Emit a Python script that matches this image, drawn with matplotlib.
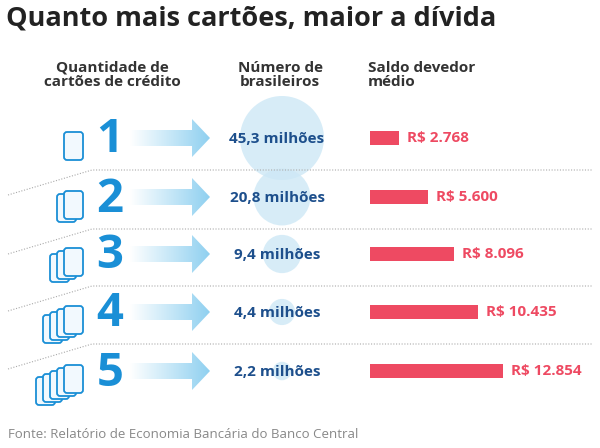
import matplotlib
matplotlib.use("Agg")
import matplotlib.pyplot as plt
import numpy as np
from matplotlib.patches import FancyBboxPatch, Circle, Rectangle, Polygon
from matplotlib.colors import LinearSegmentedColormap

plt.rcParams['font.family'] = ['Open Sans', 'DejaVu Sans']

cards = [1, 2, 3, 4, 5]
people = [45.3, 20.8, 9.4, 4.4, 2.2]
people_labels = ["45,3 milhões", "20,8 milhões", "9,4 milhões", "4,4 milhões", "2,2 milhões"]
debt = [2768, 5600, 8096, 10435, 12854]
debt_labels = ["R$ 2.768", "R$ 5.600", "R$ 8.096", "R$ 10.435", "R$ 12.854"]

BLUE = "#1a8fd6"
DARK = "#1d4f8c"
RED = "#ee4a62"

fig = plt.figure(figsize=(6, 4.48), dpi=100)
ax = fig.add_axes([0, 0, 1, 1])
ax.set_xlim(0, 600); ax.set_ylim(448, 0); ax.axis('off')

ax.text(6, 18, "Quanto mais cartões, maior a dívida", fontsize=19.5, fontweight='bold',
        color='#222222', va='center')
for x, t in [(112, "Quantidade de\ncartões de crédito"), (280, "Número de\nbrasileiros"), (368, "Saldo devedor\nmédio")]:
    ax.text(x, 75, t, fontsize=11, fontweight='bold', color='#333333', va='center',
            ha='left' if x == 368 else 'center', linespacing=1.05)

ys = [138, 197, 254, 312, 371]
for i in range(4):
    sy = ys[i] + 32
    ax.plot([8, 92, 592], [sy + 25, sy, sy], ls=(0, (1, 1.5)), color='#aaaaaa', lw=0.8)

grad = np.linspace(0, 1, 256).reshape(1, -1)
cmap = LinearSegmentedColormap.from_list('g', ['#ffffff', '#8fd0f0'])
rmax = 42
for i, y in enumerate(ys):
    n = cards[i]
    for k in range(n):
        off = (n - 1 - k)
        x0 = 64 - 7 * off
        y0 = y - 6 + 3 * off
        ax.add_patch(FancyBboxPatch((x0, y0), 19, 28, boxstyle="round,pad=0,rounding_size=3",
                                    fc='#f2f9fe', ec=BLUE, lw=1.3, zorder=3 + k))
    ax.text(110, y + 2, str(n), fontsize=34, fontweight='bold', color=BLUE, ha='center', va='center')
    poly = Polygon([[130, y - 8], [192, y - 8], [192, y - 19], [210, y], [192, y + 19], [192, y + 8], [130, y + 8]],
                   closed=True, fc='none', ec='none')
    ax.add_patch(poly)
    im = ax.imshow(grad, cmap=cmap, extent=[130, 210, y + 19, y - 19], aspect='auto', zorder=2)
    im.set_clip_path(poly)
    r = rmax * np.sqrt(people[i] / people[0])
    ax.add_patch(Circle((282, y), r, fc='#cde8f6', alpha=0.8, ec='none', zorder=1))
    ax.text(277, y + 1, people_labels[i], fontsize=11, fontweight='bold', color=DARK,
            ha='center', va='center', zorder=5)
    w = debt[i] * 133 / 12854
    ax.add_patch(Rectangle((370, y - 7), w, 14, fc=RED, ec='none'))
    ax.text(370 + w + 8, y, debt_labels[i], fontsize=11, fontweight='bold', color=RED, va='center')
ax.set_xlim(0, 600); ax.set_ylim(448, 0)

ax.text(8, 434, "Fonte: Relatório de Economia Bancária do Banco Central", fontsize=9.5,
        color='#888888', va='center')
fig.savefig("out.png", dpi=100)
